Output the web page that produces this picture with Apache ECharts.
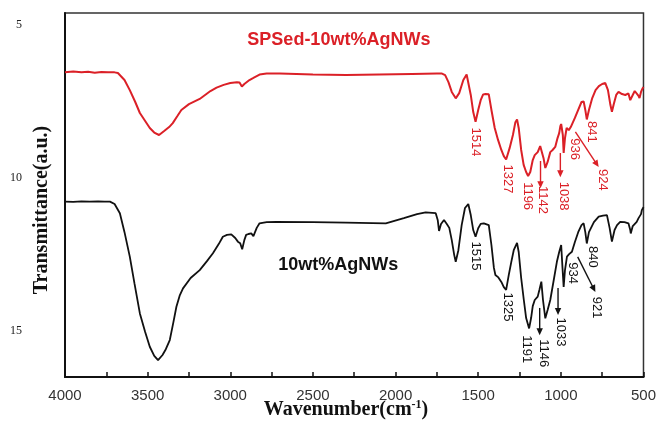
<!DOCTYPE html>
<html><head><meta charset="utf-8">
<script src="https://cdn.jsdelivr.net/npm/echarts@6/dist/echarts.min.js"></script>
<style>html,body{margin:0;padding:0;background:#fff}#main{width:659px;height:425px}</style>
</head><body><div id="main"></div>
<script>
// ---- data (wavenumber cm-1 / transmittance in axis units) ----
const redWave = [4000,3950,3900,3860,3820,3780,3740,3700,3680,3640,3608,3575,3547,3515,3487,3460,3431,3400,3370,3348,3320,3296,3250,3185,3120,3083,3040,3000,2960,2944,2930,2915,2884,2860,2823,2780,2700,2500,2300,2100,1900,1750,1719,1700,1680,1660,1636,1615,1590,1570,1562,1545,1530,1516,1500,1485,1470,1456,1436,1420,1400,1380,1360,1345,1331,1310,1290,1275,1265,1255,1240,1225,1210,1198,1185,1170,1158,1140,1125,1118,1105,1094,1080,1064,1050,1034,1020,1010,1003,998,993,988,983,975,965,952,940,933,915,895,875,862,852,843,830,810,790,770,750,731,715,700,691,680,665,651,630,610,591,580,577,565,553,541,530,524,515,505,500];
const redT = [6.55,6.52,6.55,6.53,6.56,6.54,6.55,6.55,6.57,6.80,7.13,7.52,7.88,8.14,8.37,8.52,8.60,8.47,8.34,8.21,7.98,7.78,7.59,7.42,7.16,7.05,6.96,6.90,6.87,6.88,7.01,6.93,6.80,6.73,6.62,6.59,6.59,6.62,6.64,6.62,6.60,6.59,6.59,6.64,6.87,7.19,7.40,7.23,6.80,6.62,6.64,7.29,7.85,8.17,7.78,7.46,7.27,7.26,7.27,7.78,8.37,8.76,9.09,9.29,9.40,9.03,8.60,8.18,8.09,8.37,9.09,9.58,9.81,9.94,9.81,9.42,9.26,9.16,8.96,8.93,9.35,9.68,9.48,9.16,9.09,8.99,8.70,8.54,8.31,8.24,8.21,8.60,9.19,8.70,8.37,8.44,8.34,8.32,8.04,7.78,7.52,7.50,7.78,8.09,7.78,7.39,7.13,7.00,6.93,6.90,7.13,7.62,7.84,7.59,7.29,7.19,7.26,7.29,7.24,7.46,7.51,7.29,7.16,7.22,7.32,7.39,7.19,7.07,7.03];

const blackWave = [4000,3950,3900,3850,3800,3760,3728,3700,3668,3640,3608,3580,3547,3515,3487,3460,3437,3410,3390,3366,3345,3326,3305,3286,3240,3185,3140,3105,3070,3045,3020,2994,2970,2954,2940,2928,2915,2904,2890,2873,2860,2853,2840,2823,2780,2723,2500,2300,2059,1950,1870,1818,1757,1745,1737,1725,1707,1690,1675,1660,1645,1636,1620,1600,1580,1560,1545,1530,1516,1500,1485,1466,1436,1420,1405,1396,1380,1360,1345,1331,1315,1300,1285,1265,1255,1240,1224,1210,1192,1180,1170,1158,1140,1130,1118,1108,1094,1080,1064,1045,1024,1010,998,990,983,975,963,950,933,915,895,875,862,852,843,830,800,771,745,721,705,691,675,660,641,615,591,580,577,565,541,530,515,510,500];
const blackT = [10.78,10.79,10.77,10.78,10.77,10.78,10.78,10.86,11.16,11.78,12.58,13.45,14.44,15.05,15.53,15.83,15.97,15.80,15.61,15.31,14.75,14.22,13.84,13.62,13.28,13.02,12.72,12.47,12.17,11.93,11.87,11.85,11.97,12.09,12.14,12.34,12.04,11.87,11.84,11.82,11.91,11.87,11.64,11.49,11.45,11.44,11.45,11.47,11.49,11.32,11.19,11.13,11.16,11.38,11.74,11.51,11.38,11.51,11.64,12.04,12.53,12.75,12.37,11.55,10.99,10.86,11.22,11.71,11.93,11.65,11.51,11.49,11.55,12.20,12.95,13.18,13.25,13.41,13.58,13.67,13.18,12.76,12.37,12.13,12.43,13.28,14.00,14.59,14.93,14.59,14.20,14.00,13.89,13.67,13.40,14.00,14.60,14.33,14.00,13.41,12.75,12.43,12.20,12.95,13.57,13.02,12.58,12.50,12.42,12.10,11.78,11.55,11.49,11.78,12.15,11.78,11.45,11.27,11.24,11.22,11.64,12.09,11.71,11.55,11.44,11.45,11.49,11.71,11.82,11.58,11.44,11.32,11.19,11.06,10.96];

const xTickValues = [4000,3500,3000,2500,2000,1500,1000,500];
const yTickValues = [5,10,15];

const sampleNames = ['SPSed-10wt%AgNWs','10wt%AgNWs'];
const sampleNameWave = [2343,2347];
const sampleNameT = [5.49,12.86];

const redPeakText = ['1514','1327','1196','1142','1038','936','841','924'];
const redPeakWave = [1516,1325,1200,1112,983,918,812,747];
const redPeakT = [8.83,10.04,10.60,10.73,10.60,9.06,8.50,10.07];
const redArrowFromWave = [1123,1003,912];
const redArrowFromT = [9.45,9.19,8.50];
const redArrowToWave = [1123,1003,771];
const redArrowToT = [10.34,9.98,9.65];

const blackPeakText = ['1515','1325','1191','1146','1033','934','840','921'];
const blackPeakWave = [1516,1325,1208,1103,999,928,806,782];
const blackPeakT = [12.56,14.23,15.61,15.74,15.05,13.12,12.59,14.25];
const blackArrowFromWave = [1128,1017,898];
const blackArrowFromT = [14.26,13.61,12.59];
const blackArrowToWave = [1128,1017,791];
const blackArrowToT = [15.15,14.49,13.74];

// ---- styles ----
const RED = '#db2027';
const BLACK = '#111111';

function textSeries(texts, waves, ts, color, rotated, font) {
  return {
    type: 'custom', coordinateSystem: 'cartesian2d', silent: true, z: 5,
    data: waves.map((w, i) => [w, ts[i]]),
    renderItem: (params, api) => {
      const p = api.coord([api.value(0), api.value(1)]);
      return {
        type: 'text', x: p[0], y: p[1], rotation: rotated ? -Math.PI / 2 : 0,
        style: { text: texts[params.dataIndex], fill: color, font: font, align: 'center', verticalAlign: 'middle' }
      };
    }
  };
}
function arrowSeries(fw, ft, tw, tt, color) {
  return {
    type: 'custom', coordinateSystem: 'cartesian2d', silent: true, z: 5,
    data: fw.map((w, i) => [w, ft[i], tw[i], tt[i]]),
    renderItem: (params, api) => {
      const a = api.coord([api.value(0), api.value(1)]);
      const b = api.coord([api.value(2), api.value(3)]);
      const dx = b[0] - a[0], dy = b[1] - a[1];
      const len = Math.sqrt(dx * dx + dy * dy) || 1;
      const ux = dx / len, uy = dy / len, nx = -uy, ny = ux;
      const head = 7, hw = 3.2;
      const bx = b[0] - ux * head, by = b[1] - uy * head;
      return {
        type: 'group', children: [
          { type: 'line', shape: { x1: a[0], y1: a[1], x2: bx + ux, y2: by + uy }, style: { stroke: color, lineWidth: 1.4 } },
          { type: 'polygon', shape: { points: [[b[0], b[1]], [bx + nx * hw, by + ny * hw], [bx - nx * hw, by - ny * hw]] }, style: { fill: color } }
        ]
      };
    }
  };
}

const chart = echarts.init(document.getElementById('main'), null, { renderer: 'canvas', width: 659, height: 425 });
chart.setOption({
  backgroundColor: '#ffffff',
  animation: false,
  grid: { left: 65, right: 14, top: 13, bottom: 48, show: true, borderColor: '#333', borderWidth: 1.5, backgroundColor: 'transparent' },
  xAxis: {
    type: 'value', inverse: true, min: 500, max: 4000, interval: 500,
    axisLine: { show: true, onZero: false, lineStyle: { color: '#111', width: 2 } },
    axisTick: { show: true, inside: true, length: 5, lineStyle: { color: '#111', width: 1.5 } },
    minorTick: { show: true, splitNumber: 2, length: 5, lineStyle: { color: '#111', width: 1.5 } },
    splitLine: { show: false },
    axisLabel: { color: '#333', fontSize: 15, fontFamily: 'Liberation Sans', margin: 11, customValues: xTickValues,
      formatter: (v) => String(v) }
  },
  yAxis: {
    type: 'value', inverse: true, min: 4.607, max: 16.52,
    axisLine: { show: true, onZero: false, lineStyle: { color: '#111', width: 2 } },
    axisTick: { show: false },
    splitLine: { show: false },
    axisLabel: { customValues: yTickValues, margin: 43, color: '#222', fontSize: 12, fontFamily: 'Liberation Serif',
      formatter: (v) => String(v) }
  },
  graphic: [
    { type: 'text', x: 42, y: 210, rotation: Math.PI / 2,
      style: { text: 'Transmittance(a.u.)', font: 'bold 20px "Liberation Serif"', fill: '#111', align: 'center', verticalAlign: 'middle' } },
    { type: 'text', x: 346, y: 410,
      style: { text: 'Wavenumber(cm{sup|-1})', font: 'bold 20px "Liberation Serif"', fill: '#111', align: 'center', verticalAlign: 'middle',
        rich: { sup: { font: 'bold 12px "Liberation Serif"', fill: '#111', padding: [0, 0, 10, 0] } } } }
  ],
  series: [
    { type: 'line', name: 'SPSed-10wt%AgNWs', data: redWave.map((w, i) => [w, redT[i]]), showSymbol: false, symbol: 'none',
      lineStyle: { color: RED, width: 2 }, z: 3 },
    { type: 'line', name: '10wt%AgNWs', data: blackWave.map((w, i) => [w, blackT[i]]), showSymbol: false, symbol: 'none',
      lineStyle: { color: BLACK, width: 1.8 }, z: 3 },
    textSeries(sampleNames.slice(0, 1), sampleNameWave.slice(0, 1), sampleNameT.slice(0, 1), RED, false, 'bold 18px "Liberation Sans"'),
    textSeries(sampleNames.slice(1), sampleNameWave.slice(1), sampleNameT.slice(1), BLACK, false, 'bold 18px "Liberation Sans"'),
    textSeries(redPeakText, redPeakWave, redPeakT, RED, true, '13px "Liberation Sans"'),
    textSeries(blackPeakText, blackPeakWave, blackPeakT, BLACK, true, '13px "Liberation Sans"'),
    arrowSeries(redArrowFromWave, redArrowFromT, redArrowToWave, redArrowToT, RED),
    arrowSeries(blackArrowFromWave, blackArrowFromT, blackArrowToWave, blackArrowToT, BLACK)
  ]
});
</script>
</body></html>
